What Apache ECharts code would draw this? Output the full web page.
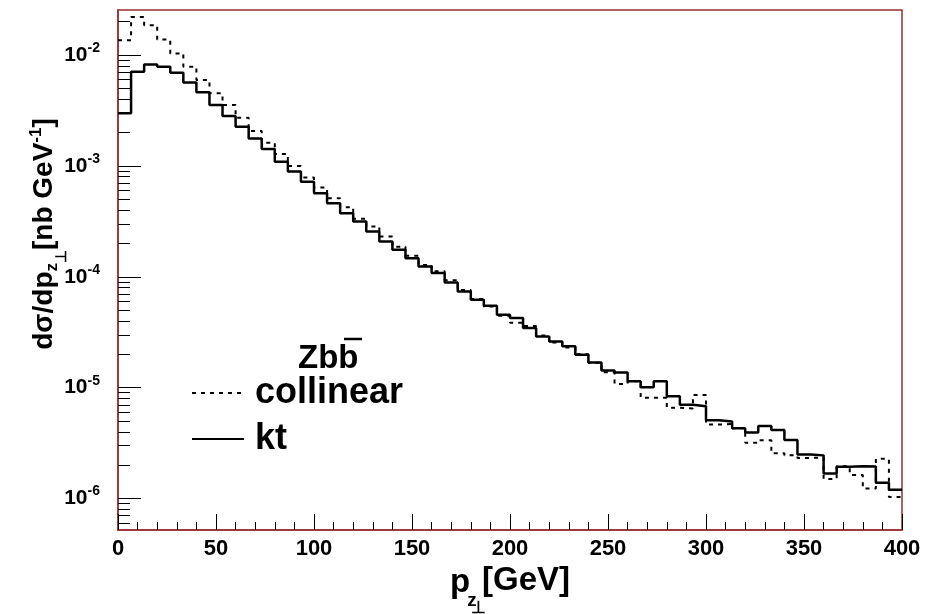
<!DOCTYPE html>
<html>
<head>
<meta charset="utf-8">
<title>Zbb pT</title>
<script src="https://cdn.jsdelivr.net/npm/echarts@6.0.0/dist/echarts.min.js"></script>
<style>
html, body { margin: 0; padding: 0; background: #fff; }
#main { width: 942px; height: 614px; }
</style>
</head>
<body>
<div id="main"></div>
<script>
// histogram: 60 bins from 0 to 400 GeV
var xMin = 0, xMax = 400, nBins = 60;
var binWidth = (xMax - xMin) / nBins;

// kt (solid)
var ktValues = [
  2.98e-3, 7.07e-3, 8.24e-3, 7.85e-3, 6.94e-3, 5.67e-3, 4.61e-3, 3.55e-3, 2.82e-3, 2.26e-3,
  1.77e-3, 1.42e-3, 1.09e-3, 8.9e-4, 7.2e-4, 5.68e-4, 4.61e-4, 3.75e-4, 3.15e-4, 2.56e-4,
  2.08e-4, 1.75e-4, 1.47e-4, 1.24e-4, 1.08e-4, 8.9e-5, 7.38e-5, 6.2e-5, 5.48e-5, 4.55e-5,
  4.25e-5, 3.45e-5, 2.9e-5, 2.61e-5, 2.36e-5, 1.98e-5, 1.69e-5, 1.43e-5, 1.37e-5, 1.14e-5,
  1.01e-5, 1.14e-5, 8.35e-6, 7.0e-6, 6.8e-6, 5.07e-6, 4.95e-6, 4.3e-6, 3.95e-6, 4.5e-6,
  4.15e-6, 3.38e-6, 2.5e-6, 2.45e-6, 1.68e-6, 1.93e-6, 1.95e-6, 1.94e-6, 1.39e-6, 1.2e-6
];

// collinear (dashed)
var collinearValues = [
  1.36e-2, 2.2e-2, 1.86e-2, 1.38e-2, 1.035e-2, 7.85e-3, 5.95e-3, 4.52e-3, 3.55e-3, 2.72e-3,
  2.07e-3, 1.62e-3, 1.28e-3, 1.0e-3, 7.85e-4, 6.38e-4, 5.12e-4, 4.25e-4, 3.33e-4, 2.84e-4,
  2.31e-4, 1.87e-4, 1.55e-4, 1.28e-4, 1.12e-4, 9.3e-5, 7.6e-5, 6.3e-5, 5.4e-5, 4.45e-5,
  3.85e-5, 3.6e-5, 2.95e-5, 2.55e-5, 2.3e-5, 2.0e-5, 1.68e-5, 1.38e-5, 1.08e-5, 1.14e-5,
  8.1e-6, 8.1e-6, 6.6e-6, 6.5e-6, 8.6e-6, 4.65e-6, 4.7e-6, 4.3e-6, 3.18e-6, 3.35e-6,
  2.56e-6, 2.45e-6, 2.32e-6, 2.35e-6, 1.5e-6, 1.95e-6, 1.63e-6, 1.23e-6, 2.28e-6, 1.03e-6
];

var yMin = 5.2e-7, yMax = 2.55e-2;
var yMajorTicks = [1e-6, 1e-5, 1e-4, 1e-3, 1e-2];
var yMinorSteps = [2, 3, 4, 5, 6, 7, 8, 9];

var font = 'Liberation Sans, Arial, Helvetica, sans-serif';
var frameColor = '#9b2d2d';

// minor ticks 2..9 x 10^n inside the range
var yMinorTicks = [];
[1e-7].concat(yMajorTicks).forEach(function (m) {
  yMinorSteps.forEach(function (s) {
    var v = s * m;
    if (v > yMin && v < yMax) yMinorTicks.push(v);
  });
});

// step points at the low edge of every bin, closed at the last edge
function histPoints(vals) {
  var pts = vals.map(function (v, i) { return [xMin + i * binWidth, v]; });
  pts.push([xMax, vals[vals.length - 1]]);
  return pts;
}

var chart = echarts.init(document.getElementById('main'));

var option = {
  backgroundColor: '#fff',
  animation: false,
  grid: {
    left: 118, right: 40, top: 10, bottom: 84,
    outerBoundsMode: 'none', containLabel: false,
    show: true, borderColor: frameColor, borderWidth: 1.5, backgroundColor: '#fff'
  },
  legend: {
    orient: 'vertical',
    left: 186, top: 368,
    itemWidth: 52, itemHeight: 14, itemGap: 6,
    data: ['collinear', 'kt'],
    itemStyle: { opacity: 0 },
    textStyle: { fontFamily: font, fontWeight: 'bold', fontSize: 36, color: '#000', lineHeight: 40, padding: [0, 0, 0, 6] }
  },
  graphic: [
    { type: 'text', x: 298, y: 375, style: { text: 'Zbb', font: 'bold 33px ' + font, fill: '#000', textVerticalAlign: 'bottom' } },
    { type: 'line', shape: { x1: 344, y1: 339, x2: 362, y2: 339 }, style: { stroke: '#000', lineWidth: 2.5 } }
  ],
  xAxis: {
    type: 'value', min: xMin, max: xMax, interval: 50,
    name: '{p|p}{z|z}{perp|⊥}{g|[GeV]}',
    nameLocation: 'middle', nameGap: 14,
    nameTextStyle: {
      rich: {
        p: { fontFamily: font, fontWeight: 'bold', fontSize: 33, color: '#000' },
        g: { fontFamily: font, fontWeight: 'bold', fontSize: 33, color: '#000', padding: [0, 0, 4, 0] },
        z: { fontFamily: font, fontWeight: 'bold', fontSize: 19, color: '#000', width: 4, padding: [34, 0, 0, 0] },
        perp: { fontFamily: font, fontWeight: 'bold', fontSize: 17, color: '#000', width: 8, padding: [50, 0, 0, 0] }
      }
    },
    axisLine: { lineStyle: { color: frameColor, width: 1.5 } },
    axisTick: { inside: true, length: 16, lineStyle: { color: '#000', width: 1 } },
    minorTick: { show: true, splitNumber: 5, length: 8, lineStyle: { color: '#000', width: 1 } },
    splitLine: { show: false },
    axisLabel: { margin: 8, color: '#000', fontFamily: font, fontWeight: 'bold', fontSize: 22 }
  },
  yAxis: [
    {
      type: 'log', min: yMin, max: yMax, logBase: 10,
      name: '{t|dσ/dp}{z|z}{perp|⊥}{t|[nb GeV}{sup|-1}{t|]}',
      nameLocation: 'middle', nameRotate: 90, nameGap: 49, nameMoveOverlap: false,
      nameTextStyle: {
        padding: [0, 0, 0, 72],
        rich: {
          t: { fontFamily: font, fontWeight: 'bold', fontSize: 28, color: '#000' },
          z: { fontFamily: font, fontWeight: 'bold', fontSize: 17, color: '#000', padding: [16, 0, 0, 0] },
          perp: { fontFamily: font, fontWeight: 'bold', fontSize: 15, color: '#000', padding: [34, 0, 0, 0] },
          sup: { fontFamily: font, fontWeight: 'bold', fontSize: 17, color: '#000', padding: [0, 0, 16, 0] }
        }
      },
      axisLine: { show: true, lineStyle: { color: frameColor, width: 1.5 } },
      axisTick: { inside: true, length: 23, customValues: yMajorTicks, lineStyle: { color: '#000', width: 1 } },
      splitLine: { show: false },
      axisLabel: {
        customValues: yMajorTicks,
        margin: 18,
        formatter: function (v) {
          return '{b|10}{s|' + Math.round(Math.log10(v)) + '}';
        },
        rich: {
          b: { fontFamily: font, fontWeight: 'bold', fontSize: 21, color: '#000' },
          s: { fontFamily: font, fontWeight: 'bold', fontSize: 14, color: '#000', padding: [0, 0, 14, 0] }
        }
      }
    },
    {
      type: 'log', min: yMin, max: yMax, logBase: 10, position: 'left',
      axisLine: { show: false },
      axisTick: { inside: true, length: 12, customValues: yMinorTicks, lineStyle: { color: '#000', width: 1 } },
      axisLabel: { show: false },
      splitLine: { show: false }
    }
  ],
  series: [
    {
      name: 'collinear', type: 'line', step: 'end', yAxisIndex: 0,
      showSymbol: false, symbol: 'none',
      lineStyle: { color: '#000', width: 2, type: [4, 5] },
      itemStyle: { color: '#000' },
      data: histPoints(collinearValues)
    },
    {
      name: 'kt', type: 'line', step: 'end', yAxisIndex: 0,
      showSymbol: false, symbol: 'none',
      lineStyle: { color: '#000', width: 2.5 },
      itemStyle: { color: '#000' },
      data: histPoints(ktValues)
    }
  ]
};

chart.setOption(option);
</script>
</body>
</html>
